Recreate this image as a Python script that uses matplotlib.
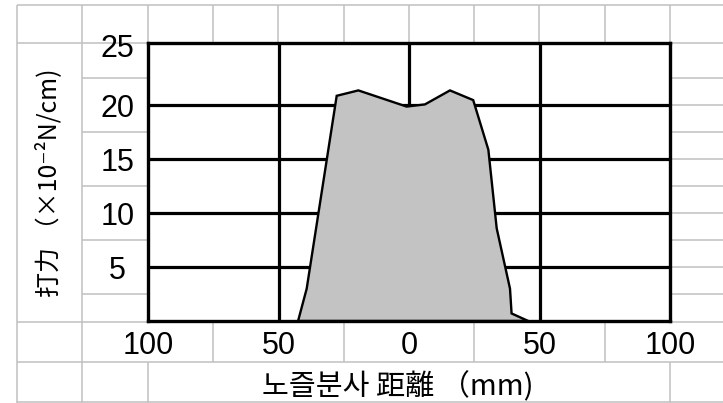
import matplotlib
matplotlib.use('Agg')
import matplotlib.pyplot as plt
from matplotlib.collections import LineCollection

plt.rcParams['font.family'] = ['Noto Sans CJK KR', 'DejaVu Sans']

# ── Data ──────────────────────────────────────────────────────────────────────
dist_mm = [-42.5, -39.2, -27.7, -19.4, -0.9, 6.1, 15.7, 24.6, 30.4, 33.6, 38.7, 39.3, 45.7]
force   = [0.0, 3.0, 20.9, 21.4, 19.9, 20.1, 21.4, 20.5, 15.9, 8.6, 3.0, 0.7, 0.0]

x_ticks  = [-100, -50, 0, 50, 100]
x_labels = ['100', '50', '0', '50', '100']
y_ticks  = [5, 10, 15, 20, 25.6]
y_labels = ['5', '10', '15', '20', '25']
grid_x   = [-50, 0, 50]
grid_y   = [5, 10, 15, 20]

x_title = '노즐분사 距離 （mm)'
y_title = '打力 （×10⁻²N/cm)'

# ── Layout (pixels) ───────────────────────────────────────────────────────────
W, H = 723, 403
PLOT_L, PLOT_R, PLOT_T, PLOT_B = 148, 670, 43, 321

# spreadsheet cell borders behind the chart: (x0, y0, x1, y1)
cells = [
    (17, 5, 723, 5), (17, 43, 723, 43), (17, 322, 723, 322),
    (17, 362, 723, 362), (17, 402, 723, 402),
    (17, 5, 17, 403), (82, 5, 82, 403),
]
for cx in [148, 213, 278, 344, 409, 474, 539, 605, 670]:
    cells.append((cx, 5, cx, 43))
for cy in [78, 132, 186, 240, 294]:
    cells.append((82, cy, 148, cy))
for cy in [78, 105, 132, 159, 186, 213, 240, 267, 294]:
    cells.append((670, cy, 723, cy))
for cx in [213, 344, 474, 605]:
    cells.append((cx, 322, cx, 362))
for cx in [148, 670]:
    cells.append((cx, 362, cx, 403))

fig = plt.figure(figsize=(W / 100, H / 100), dpi=100)
fig.patch.set_facecolor('white')

bg = fig.add_axes([0, 0, 1, 1])
bg.set_xlim(0, W)
bg.set_ylim(H, 0)
bg.axis('off')
bg.add_collection(LineCollection([[(a, b), (c, d)] for a, b, c, d in cells],
                                 colors='#c0c0c0', linewidths=1.1))

# ── Chart ─────────────────────────────────────────────────────────────────────
ax = fig.add_axes([PLOT_L / W, 1 - PLOT_B / H,
                   (PLOT_R - PLOT_L) / W, (PLOT_B - PLOT_T) / H])
ax.set_xlim(-100, 100)
ax.set_ylim(0, 25.8)
ax.set_facecolor('white')

for gx in grid_x:
    ax.axvline(gx, color='black', lw=2.3, zorder=1)
for gy in grid_y:
    ax.axhline(gy, color='black', lw=2.3, zorder=1)

ax.fill(dist_mm, force, facecolor='#c3c3c3', edgecolor='black', lw=1.7, zorder=3,
        joinstyle='miter')

for s in ax.spines.values():
    s.set_linewidth(2.4)
    s.set_color('black')
    s.set_zorder(5)

digit_font = ['Liberation Sans', 'DejaVu Sans']
ax.set_xticks(x_ticks, x_labels)
ax.set_yticks(y_ticks, y_labels)
ax.tick_params(length=0, labelsize=22)
ax.tick_params(axis='y', pad=22)
ax.tick_params(axis='x', pad=18)
for t in ax.get_yticklabels():
    t.set_ha('center')
    t.set_family(digit_font)
for t in ax.get_xticklabels():
    t.set_va('center')
    t.set_family(digit_font)

fig.text(398 / W, 1 - 387 / H, x_title, fontsize=21, ha='center', va='center')
fig.text(49 / W, 1 - 183 / H, y_title, fontsize=18, ha='center', va='center',
         rotation=90)

fig.savefig('out.png', dpi=100)
